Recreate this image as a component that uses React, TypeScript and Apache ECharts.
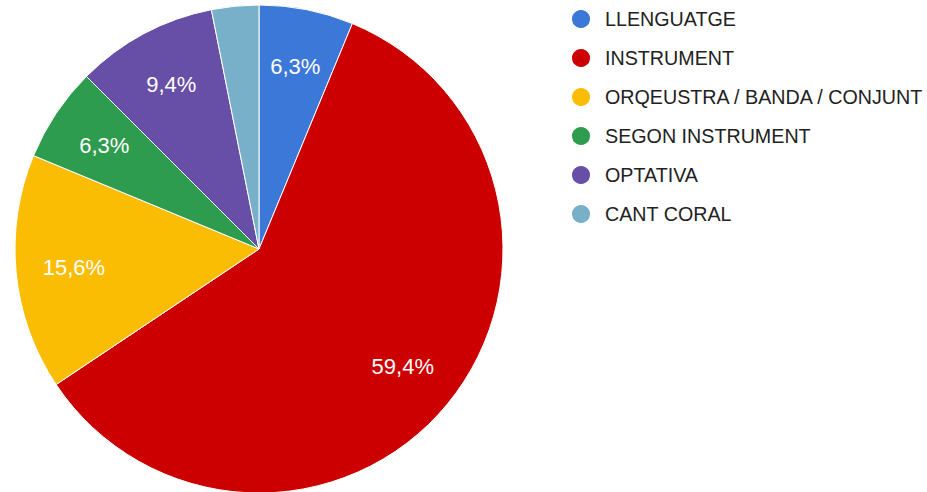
import React, { useEffect, useRef } from "react";
import * as echarts from "echarts";

const categories = [
  "LLENGUATGE",
  "INSTRUMENT",
  "ORQEUSTRA / BANDA / CONJUNT",
  "SEGON INSTRUMENT",
  "OPTATIVA",
  "CANT CORAL",
];
const values = [2, 19, 5, 2, 3, 1];
const colors = ["#3c78d8", "#cc0000", "#fbbc04", "#2e9c4e", "#674ea7", "#77b0c8"];
const showLabel = [true, true, true, true, true, false];

export default function App() {
  const ref = useRef<HTMLDivElement>(null);
  useEffect(() => {
    if (!ref.current) return;
    const chart = echarts.init(ref.current, null, { renderer: "svg" });
    const total = values.reduce((a, b) => a + b, 0);
    const fmt = (v: number) => ((v / total) * 100).toFixed(1).replace(".", ",") + "%";
    chart.setOption({
      animation: false,
      textStyle: { fontFamily: "Liberation Sans, Arial, sans-serif" },
      legend: {
        orient: "vertical",
        left: 570,
        top: 8,
        padding: 0,
        itemWidth: 38,
        itemHeight: 20,
        itemGap: 17,
        icon: "circle",
        data: categories,
        textStyle: {
          fontSize: 19.7,
          color: "#222222",
          fontFamily: "Liberation Sans, Arial, sans-serif",
        },
        selectedMode: false,
      },
      series: [
        {
          type: "pie",
          center: [259, 249],
          radius: [0, 244],
          startAngle: 90,
          clockwise: true,
          silent: true,
          label: { show: false },
          labelLine: { show: false },
          itemStyle: { borderColor: "#ffffff", borderWidth: 1 },
          data: categories.map((c, i) => ({
            name: c,
            value: values[i],
            itemStyle: { color: colors[i] },
          })),
        },
        {
          type: "pie",
          center: [259, 249],
          radius: [122, 244],
          startAngle: 90,
          clockwise: true,
          silent: true,
          labelLine: { show: false },
          itemStyle: { color: "rgba(0,0,0,0)", borderWidth: 0 },
          label: {
            show: true,
            position: "inside",
            color: "#ffffff",
            fontSize: 22,
            fontFamily: "Liberation Sans, Arial, sans-serif",
            formatter: (p: any) => fmt(p.value),
          },
          data: categories.map((c, i) => ({
            name: c,
            value: values[i],
            itemStyle: { color: "rgba(0,0,0,0)" },
            label: { show: showLabel[i] },
          })),
        },
      ],
    });
    return () => chart.dispose();
  }, []);
  return (
    <div
      ref={ref}
      style={{ position: "fixed", left: 0, top: 0, width: 927, height: 492, background: "#ffffff" }}
    />
  );
}
